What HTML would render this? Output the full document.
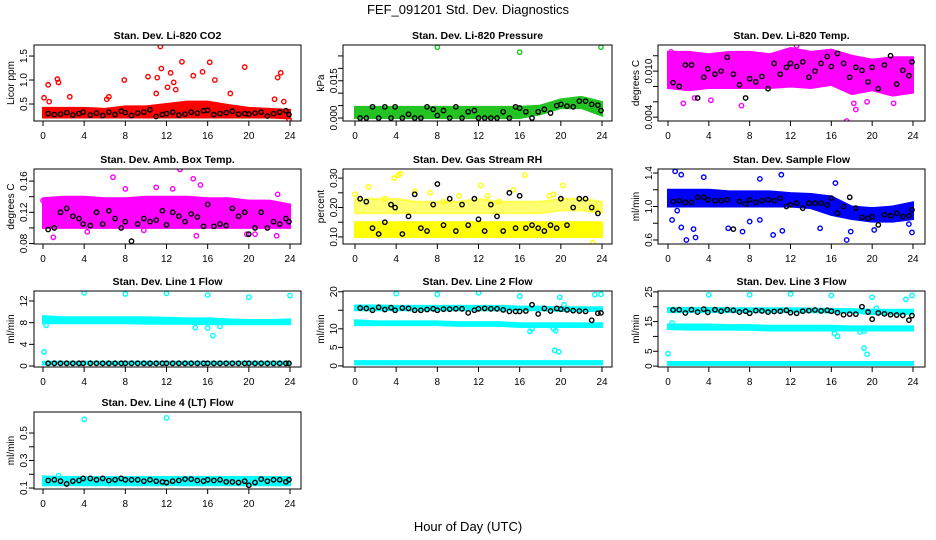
<!DOCTYPE html>
<html><head><meta charset="utf-8"><style>
body{margin:0;background:#fff}
svg{display:block;font-family:"Liberation Sans",sans-serif}
</style></head><body>
<svg id="c" width="936" height="540" viewBox="0 0 936 540">
<text x="468" y="14" text-anchor="middle" font-size="13">FEF_091201  Std. Dev. Diagnostics</text>
<text x="468" y="531" text-anchor="middle" font-size="13">Hour of Day (UTC)</text>
</svg>
<script>
const xTicks=[0,4,8,12,16,20,24];
const bandHours=[0,2,4,6,8,10,12,14,16,18,20,22,24];
const blkX=[0.5,1.1,1.7,2.3,2.9,3.5,3.9,4.6,5.2,5.8,6.4,7.0,7.6,8.0,8.6,9.2,9.8,10.4,11.0,11.6,12.0,12.6,13.2,13.8,14.4,15.0,15.6,16.0,16.6,17.2,17.8,18.4,19.0,19.6,20.0,20.6,21.2,21.8,22.4,23.0,23.6,23.9];

const co2Lo=[0.22,0.22,0.22,0.22,0.22,0.22,0.22,0.22,0.22,0.22,0.22,0.22,0.2];
const co2Hi=[0.42,0.42,0.42,0.4,0.45,0.45,0.5,0.55,0.55,0.48,0.42,0.4,0.38];
const co2OutX=[0.1,0.5,1.4,1.5,2.6,6.4,7.9,10.2,11.1,11.4,11.5,12.1,12.4,12.7,12.9,13.5,14.6,15.5,16.2,16.7,18.2,19.6,22.5,22.8,23.1,23.4,0.6,6.2,11.0,23.9];
const co2OutY=[0.63,0.9,1.02,0.95,0.65,0.65,1.0,1.07,1.05,1.7,1.24,0.85,1.15,0.95,0.8,1.38,1.09,1.17,1.37,1.0,0.72,1.27,0.6,1.05,1.15,0.55,0.55,0.6,0.72,0.18];
const co2Blk=[0.3,0.28,0.29,0.32,0.27,0.3,0.33,0.27,0.31,0.26,0.33,0.28,0.35,0.32,0.26,0.31,0.33,0.38,0.24,0.28,0.3,0.33,0.27,0.29,0.33,0.31,0.36,0.37,0.28,0.3,0.32,0.35,0.29,0.3,0.29,0.31,0.33,0.25,0.3,0.33,0.36,0.28];

const presLo=[0,0,0,0,0,0,0,0,0,0.0015,0.004,0.004,0.001];
const presHi=[0.0045,0.0045,0.0045,0.0045,0.0045,0.0045,0.0045,0.0045,0.0045,0.005,0.0075,0.0085,0.0065];
const presOutX=[8,16,23.9];
const presOutY=[0.0285,0.0265,0.0285];
const presBlk=[0,0,0.0045,0,0.0045,0,0.0045,0,0.0015,0,0,0.0045,0.0035,0.001,0.003,0,0.0045,0,0.0025,0.003,0,0,0,0,0.0025,0,0.0045,0.004,0.0025,0,0.0025,0.0035,0.002,0.005,0.0055,0.0048,0.0045,0.0068,0.0068,0.0055,0.0052,0.003];

const tempLo=[0.0078,0.0075,0.0078,0.0078,0.0078,0.0078,0.008,0.0078,0.0082,0.007,0.0075,0.0068,0.0072];
const tempHi=[0.0125,0.0125,0.0122,0.0125,0.0125,0.0122,0.013,0.0125,0.0128,0.012,0.0115,0.0118,0.0118];
const tempOutX=[1.5,2.6,4.2,7.2,17.5,18.4,18.2,19.5,22.1,0.3,12.6];
const tempOutY=[0.0058,0.0065,0.0062,0.0055,0.0035,0.005,0.0058,0.006,0.0058,0.0125,0.0133];
const tempBlk=[0.0085,0.008,0.0108,0.0108,0.0065,0.0092,0.0103,0.0096,0.01,0.0118,0.0096,0.0082,0.0065,0.009,0.0086,0.0093,0.0077,0.011,0.0096,0.0105,0.011,0.0106,0.0112,0.0092,0.01,0.011,0.0119,0.0106,0.0123,0.011,0.0092,0.0105,0.0101,0.0086,0.0105,0.0077,0.0108,0.012,0.0083,0.0101,0.0094,0.0112];

const ambLo=[0.1,0.1,0.1,0.1,0.1,0.1,0.1,0.1,0.1,0.1,0.1,0.1,0.1];
const ambHi=[0.138,0.14,0.14,0.138,0.138,0.14,0.14,0.14,0.138,0.138,0.135,0.135,0.13];
const ambOutX=[1.0,6.8,13.3,14.6,15.3,11.0,12.6,8.0,22.8,14.9,4.3,19.8,20.6,22.7,9.8,0,23.6];
const ambOutY=[0.088,0.165,0.175,0.163,0.155,0.152,0.15,0.15,0.143,0.09,0.095,0.092,0.092,0.09,0.097,0.135,0.12];
const ambBlk=[0.098,0.1,0.12,0.125,0.115,0.112,0.105,0.103,0.12,0.105,0.122,0.112,0.1,0.108,0.083,0.105,0.112,0.108,0.11,0.122,0.104,0.12,0.115,0.108,0.118,0.114,0.102,0.13,0.102,0.105,0.103,0.125,0.115,0.12,0.092,0.1,0.12,0.1,0.108,0.105,0.112,0.108];

const rhLo=[0.1,0.1,0.1,0.1,0.1,0.1,0.1,0.1,0.1,0.1,0.1,0.1,0.1];
const rhHi=[0.15,0.15,0.15,0.15,0.15,0.15,0.15,0.15,0.15,0.15,0.15,0.15,0.15];
const rhLo2=[0.18,0.18,0.18,0.18,0.18,0.18,0.18,0.18,0.18,0.18,0.19,0.19,0.18];
const rhHi2=[0.23,0.23,0.23,0.22,0.22,0.22,0.23,0.22,0.22,0.22,0.23,0.23,0.22];
const rhOutX=[0,3.8,4.2,4.4,1.3,12.2,16.5,20.2,15.4,23.1,10.1,12.9,18.9,19.3,23.3,5.8,2.9,7.3,8.6,14.0];
const rhOutY=[0.245,0.3,0.31,0.315,0.27,0.275,0.31,0.275,0.26,0.08,0.24,0.24,0.24,0.245,0.2,0.255,0.23,0.25,0.22,0.22];
const rhBlk=[0.23,0.22,0.13,0.11,0.15,0.21,0.2,0.11,0.17,0.245,0.13,0.12,0.21,0.28,0.14,0.23,0.12,0.21,0.14,0.23,0.16,0.12,0.21,0.17,0.12,0.25,0.13,0.24,0.13,0.14,0.13,0.12,0.14,0.13,0.23,0.14,0.2,0.23,0.23,0.2,0.18,0.34];

const flowLo=[1.0,1.0,1.0,1.0,1.0,1.0,1.0,0.98,0.9,0.85,0.82,0.82,0.85];
const flowHi=[1.2,1.2,1.2,1.18,1.18,1.18,1.16,1.15,1.12,1.0,0.98,1.0,1.05];
const flowOutX=[0.4,0.7,0.9,1.3,1.3,1.8,2.7,2.5,3.5,5.9,7.3,8.0,9.0,10.3,11.1,11.2,14.9,16.4,17.5,17.9,20.2,23.6,23.9,9.0];
const flowOutY=[0.84,1.42,0.95,0.75,1.38,0.6,0.63,0.73,1.35,0.74,0.7,0.82,0.84,0.66,1.38,0.71,0.74,1.28,0.6,0.7,0.72,0.79,0.69,1.33];
const flowBlk=[1.06,1.07,1.05,1.05,1.11,1.11,1.08,1.07,1.07,1.08,0.73,1.06,1.03,1.08,1.05,1.07,1.08,1.07,1.1,1.0,1.02,1.04,0.98,1.04,1.04,1.04,1.02,1.1,0.92,1.0,1.11,0.98,0.87,0.86,0.88,0.78,0.9,0.89,0.92,0.88,0.89,0.96];

const l1Lo=[7.9,7.9,7.9,7.9,7.9,7.8,7.8,7.8,7.7,7.7,7.7,7.7,7.7];
const l1Hi=[9.2,9.0,9.0,9.0,9.0,9.0,8.9,8.8,8.8,8.6,8.5,8.5,8.6];
const l1Lo2=[0.3,0.3,0.3,0.3,0.3,0.3,0.3,0.3,0.3,0.3,0.3,0.3,0.3];
const l1Hi2=[0.8,0.8,0.8,0.8,0.8,0.8,0.8,0.8,0.8,0.8,0.8,0.8,0.8];
const l1OutX=[0.1,0.3,4,8,12,16,20,24,16,16.5,14.8,17.2];
const l1OutY=[2.6,7.5,13.5,13.3,13.4,13.1,12.7,13.0,7.0,5.6,7.1,7.3];
const l1Blk=[0.5,0.5,0.5,0.5,0.5,0.5,0.5,0.5,0.5,0.5,0.5,0.5,0.5,0.5,0.5,0.5,0.5,0.5,0.5,0.5,0.5,0.5,0.5,0.5,0.5,0.5,0.5,0.5,0.5,0.5,0.5,0.5,0.5,0.5,0.5,0.5,0.5,0.5,0.5,0.5,0.5,0.5];

const l2Lo=[15.0,15.0,15.0,15.0,15.0,15.0,15.0,15.0,15.0,15.0,14.8,14.8,14.8];
const l2Hi=[16.3,16.3,16.2,16.2,16.2,16.2,16.2,16.2,16.0,16.0,15.8,15.8,15.8];
const l2Lo2=[11.0,11.0,11.0,11.0,11.0,10.8,10.8,10.8,10.5,10.5,10.5,10.5,10.5];
const l2Hi2=[12.3,12.0,12.0,12.0,12.0,11.8,11.8,11.8,11.5,11.5,11.5,11.5,11.5];
const l2Lo3=[0.4,0.4,0.4,0.4,0.4,0.4,0.4,0.4,0.4,0.4,0.4,0.4,0.4];
const l2Hi3=[1.3,1.3,1.3,1.3,1.3,1.3,1.3,1.3,1.3,1.3,1.3,1.3,1.3];
const l2OutX=[4,8,12,16,19.9,23.3,23.9,19.3,19.5,19.4,19.8,17.0,17.2,20.3];
const l2OutY=[19.5,19.3,19.7,18.8,18.5,19.2,19.3,10,9.5,4.2,3.8,9.3,10,16.5];
const l2Blk=[15.6,15.5,15,15.8,15.2,15.7,15,15.6,15.5,15,15,15.2,15.4,15,15.3,15.3,15.4,15.4,14.3,15,15.4,15.5,15.4,15.4,15.1,14.7,14.7,14.7,14.8,16.5,14,15.5,14.8,15.5,15.3,15.1,14.9,14.8,14.7,12.3,14.2,14.3];

const l3Lo=[18.2,18.2,18.2,18.2,18.2,18.2,18.2,18.2,18.0,18.0,17.5,17.5,17.5];
const l3Hi=[19.6,19.6,19.6,19.5,19.5,19.5,19.5,19.4,19.3,19.2,19.0,19.0,19.0];
const l3Lo2=[12.5,12.3,12.3,12.3,12.2,12.0,12.0,12.0,12.0,12.0,12.0,12.0,12.0];
const l3Hi2=[14.0,14.0,14.0,13.8,13.8,13.6,13.6,13.6,13.6,13.4,13.4,13.4,13.4];
const l3Lo3=[0.4,0.4,0.4,0.4,0.4,0.4,0.4,0.4,0.4,0.4,0.4,0.4,0.4];
const l3Hi3=[1.4,1.4,1.4,1.4,1.4,1.4,1.4,1.4,1.4,1.4,1.4,1.4,1.4];
const l3OutX=[0,0.4,4,8,12,16,20,23.3,23.9,19.2,19.5,16.3,16.6,18.8,19.2,20.4];
const l3OutY=[4.2,14.5,24,24,24.3,23.8,23.2,22.5,23.8,6,4,11,10,11.5,11.8,19.5];
const l3Blk=[18.9,19,17.9,19,18.2,19.2,18.1,19,18.5,19,18.8,18.2,18.5,17.8,18.7,18.6,18.2,18.4,18.5,18.8,18.0,17.8,18.5,18.7,18.9,18.6,18.8,18.5,18.0,17.3,17.5,17.5,20.0,18.2,15.8,17.9,17.6,17.3,17.2,17.1,15.5,17.0];

const l4Lo=[0.12,0.12,0.12,0.12,0.12,0.12,0.12,0.12,0.12,0.12,0.12,0.12,0.12];
const l4Hi=[0.185,0.18,0.18,0.18,0.18,0.18,0.18,0.18,0.18,0.18,0.18,0.18,0.18];
const l4OutX=[4,12,20,1.5];
const l4OutY=[0.6,0.61,0.67,0.19];
const l4Blk=[0.155,0.16,0.15,0.13,0.15,0.155,0.17,0.17,0.16,0.17,0.155,0.16,0.17,0.16,0.16,0.16,0.15,0.16,0.15,0.145,0.14,0.15,0.155,0.165,0.165,0.155,0.15,0.16,0.155,0.16,0.145,0.145,0.14,0.15,0.12,0.14,0.165,0.15,0.16,0.16,0.145,0.16];

const cols=[{b0:34,b1:301,x0:43,x24:290,yl:14,tl:27},{b0:343,b1:612,x0:355,x24:602,yl:324,tl:337},{b0:658,b1:925,x0:668,x24:913,yl:639,tl:652}];
const rows=[{t:45,b:121},{t:169,b:244},{t:291,b:367},{t:412,b:489}];

const panels=[
 {name:'co2',title:'Stan. Dev. Li-820 CO2',ylab:'Licor ppm',c:0,r:0,ymin:0.146,ymax:1.73,ticks:[0.5,1.0,1.5],labels:['0.5','1.0','1.5'],col:'#ff0000',bands:[[co2Lo,co2Hi,1]],ox:co2OutX,oy:co2OutY,blk:co2Blk},
 {name:'pressure',title:'Stan. Dev. Li-820 Pressure',ylab:'kPa',c:1,r:0,ymin:-0.0012,ymax:0.0294,ticks:[0,0.005,0.01,0.015,0.02,0.025],labels:['0.000','','','0.015','',''],col:'#22c322',bands:[[presLo,presHi,1]],ox:presOutX,oy:presOutY,blk:presBlk},
 {name:'li820-temp',title:'Stan. Dev. Li-820 Temp.',ylab:'degrees C',c:2,r:0,ymin:0.0035,ymax:0.0134,ticks:[0.004,0.006,0.008,0.01,0.012],labels:['0.004','','','0.010',''],col:'#ff00ff',bands:[[tempLo,tempHi,1]],ox:tempOutX,oy:tempOutY,blk:tempBlk},
 {name:'amb-box-temp',title:'Stan. Dev. Amb. Box Temp.',ylab:'degrees C',c:0,r:1,ymin:0.0794,ymax:0.1755,ticks:[0.08,0.1,0.12,0.14,0.16],labels:['0.08','','0.12','','0.16'],col:'#ff00ff',bands:[[ambLo,ambHi,1]],ox:ambOutX,oy:ambOutY,blk:ambBlk},
 {name:'gas-stream-rh',title:'Stan. Dev. Gas Stream RH',ylab:'percent',c:1,r:1,ymin:0.076,ymax:0.331,ticks:[0.1,0.15,0.2,0.25,0.3],labels:['0.10','','0.20','','0.30'],col:'#ffff00',bands:[[rhLo,rhHi,1],[rhLo2,rhHi2,0.55]],ox:rhOutX,oy:rhOutY,blk:rhBlk},
 {name:'sample-flow',title:'Stan. Dev. Sample Flow',ylab:'ml/min',c:2,r:1,ymin:0.552,ymax:1.448,ticks:[0.6,0.8,1.0,1.2,1.4],labels:['0.6','','1.0','','1.4'],col:'#0000ff',bands:[[flowLo,flowHi,1]],ox:flowOutX,oy:flowOutY,blk:flowBlk},
 {name:'line1-flow',title:'Stan. Dev. Line 1 Flow',ylab:'ml/min',c:0,r:2,ymin:-0.18,ymax:13.84,ticks:[0,4,8,12],labels:['0','4','8','12'],col:'#00ffff',bands:[[l1Lo,l1Hi,1],[l1Lo2,l1Hi2,1]],ox:l1OutX,oy:l1OutY,blk:l1Blk},
 {name:'line2-flow',title:'Stan. Dev. Line 2 Flow',ylab:'ml/min',c:1,r:2,ymin:-0.3,ymax:20.2,ticks:[0,5,10,15,20],labels:['0','5','10','','20'],col:'#00ffff',bands:[[l2Lo,l2Hi,1],[l2Lo2,l2Hi2,1],[l2Lo3,l2Hi3,1]],ox:l2OutX,oy:l2OutY,blk:l2Blk},
 {name:'line3-flow',title:'Stan. Dev. Line 3 Flow',ylab:'ml/min',c:2,r:2,ymin:-0.3,ymax:25.3,ticks:[0,5,10,15,20,25],labels:['0','5','','15','','25'],col:'#00ffff',bands:[[l3Lo,l3Hi,1],[l3Lo2,l3Hi2,1],[l3Lo3,l3Hi3,1]],ox:l3OutX,oy:l3OutY,blk:l3Blk},
 {name:'line4-flow',title:'Stan. Dev. Line 4 (LT) Flow',ylab:'ml/min',c:0,r:3,ymin:0.093,ymax:0.653,ticks:[0.1,0.2,0.3,0.4,0.5],labels:['0.1','','0.3','','0.5'],col:'#00ffff',bands:[[l4Lo,l4Hi,1]],ox:l4OutX,oy:l4OutY,blk:l4Blk}
];

const NS='http://www.w3.org/2000/svg';
const svg=document.getElementById('c');
function mk(tag,attrs,parent,text){const e=document.createElementNS(NS,tag);for(const k in attrs)e.setAttribute(k,attrs[k]);if(text!==undefined)e.textContent=text;parent.appendChild(e);return e;}

panels.forEach(p=>{
 const C=cols[p.c],R=rows[p.r];
 const xs=v=>C.x0+(C.x24-C.x0)*v/24;
 const ys=v=>R.b-(R.b-R.t)*(v-p.ymin)/(p.ymax-p.ymin);
 const g=mk('g',{},svg);
 
 
 const clipId='clip-'+p.name;
 const cp=mk('clipPath',{id:clipId},g);mk('rect',{x:C.b0,y:R.t,width:C.b1-C.b0,height:R.b-R.t},cp);
 const plot=mk('g',{'clip-path':'url(#'+clipId+')'},g);
 p.bands.forEach((b,bi)=>{
  let pts=[];
  bandHours.forEach((h,i)=>pts.push(xs(h)+','+ys(b[1][i])));
  for(let i=bandHours.length-1;i>=0;i--)pts.push(xs(bandHours[i])+','+ys(b[0][i]));
  const poly=mk('polygon',{points:pts.join(' '),fill:p.col,'fill-opacity':b[2],stroke:p.col,'stroke-width':2,'stroke-opacity':b[2]},plot);
  
  
 });
 p.ox.forEach((x,i)=>{
  const c=mk('circle',{cx:xs(x),cy:ys(p.oy[i]),r:2.2,fill:'none',stroke:p.col,'stroke-width':1.4},plot);
  
  
 });
 blkX.forEach((x,i)=>{
  const c=mk('circle',{cx:xs(x),cy:ys(p.blk[i]),r:2.2,fill:'none',stroke:'#000','stroke-width':1.4},plot);
  
  
 });
 const box=mk('rect',{x:C.b0,y:R.t,width:C.b1-C.b0,height:R.b-R.t,fill:'none',stroke:'#000','stroke-width':1},g);
 
 
 const t=mk('text',{x:(C.b0+C.b1)/2,y:R.t-6,'text-anchor':'middle','font-size':10.5,'font-weight':'bold'},g,p.title);
 
 
 xTicks.forEach(v=>{
  mk('line',{x1:xs(v),x2:xs(v),y1:R.b,y2:R.b+5,stroke:'#000'},g);
  const l=mk('text',{x:xs(v),y:R.b+18,'text-anchor':'middle','font-size':10},g,String(v));
  
  
 });
 mk('line',{x1:xs(0),x2:xs(24),y1:R.b,y2:R.b,stroke:'#000'},g);
 p.ticks.forEach((v,i)=>{
  mk('line',{x1:C.b0-5,x2:C.b0,y1:ys(v),y2:ys(v),stroke:'#000'},g);
  if(p.labels[i]){
   const l=mk('text',{x:C.tl,y:ys(v),'text-anchor':'middle','font-size':10,transform:'rotate(-90 '+C.tl+' '+ys(v)+')'},g,p.labels[i]);
   
   
  }
 });
 const ym=(R.t+R.b)/2;
 const yl=mk('text',{x:C.yl,y:ym,'text-anchor':'middle','font-size':10,transform:'rotate(-90 '+C.yl+' '+ym+')'},g,p.ylab);
 
 
});
</script>
</body></html>
